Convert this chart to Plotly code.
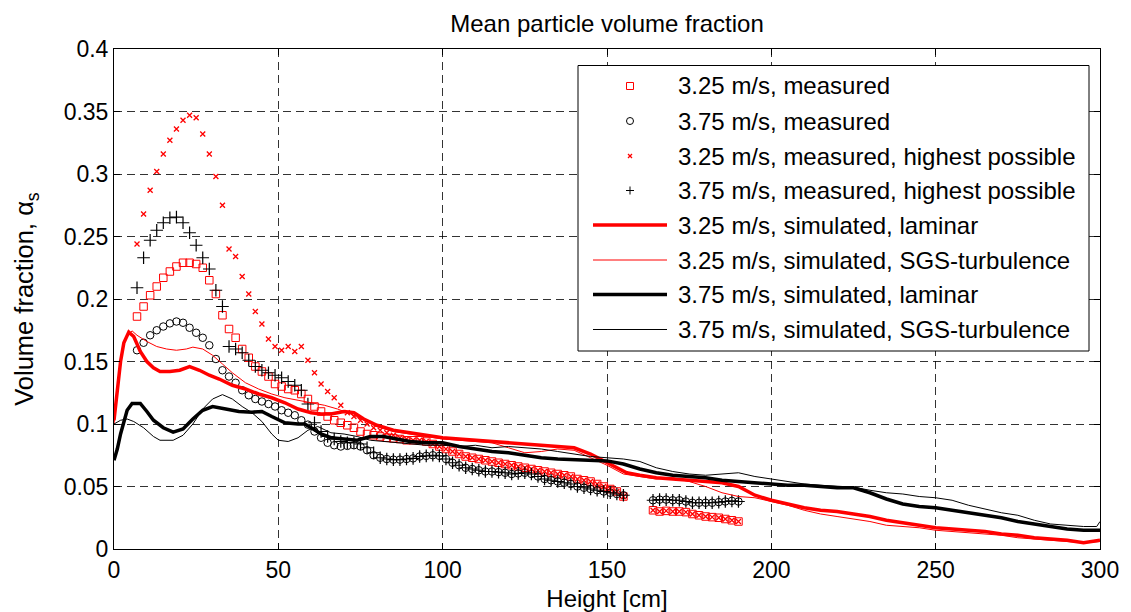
import plotly.graph_objects as go

# ---------------- data ----------------
# measurement heights [cm]
height_meas = [7, 9, 11, 13, 15, 17, 19, 21, 23, 25,
               27, 29, 31, 33, 35, 37, 39, 41, 43, 45,
               47, 49, 51, 53, 55, 57, 59, 61, 63, 65,
               67, 69, 71, 73, 75, 77, 79, 81, 83, 85,
               87, 89, 91, 93, 95, 97, 99, 101, 103, 105,
               107, 109, 111, 113, 115, 117, 119, 121, 123, 125,
               127, 129, 131, 133, 135, 137, 139, 141, 143, 145,
               147, 149, 151, 153, 155,
               164, 166, 168, 170, 172, 174, 176, 178, 180, 182, 184, 186, 188, 190]

meas_325 = [0.186, 0.194, 0.203, 0.210, 0.217, 0.222, 0.226, 0.229, 0.229, 0.228,
            0.225, 0.215, 0.204, 0.187, 0.176, 0.169, 0.160, 0.153, 0.146, 0.142,
            0.138, 0.132, 0.130, 0.128, 0.127, 0.124, 0.120, 0.114, 0.110, 0.106,
            0.103, 0.101, 0.099, 0.097, 0.094, 0.092, 0.091, 0.090, 0.089, 0.0885,
            0.088, 0.087, 0.087, 0.087, 0.086, 0.084, 0.082, 0.080, 0.078, 0.076,
            0.074, 0.073, 0.072, 0.071, 0.070, 0.069, 0.068, 0.067, 0.066, 0.065,
            0.064, 0.063, 0.062, 0.061, 0.060, 0.059, 0.058, 0.056, 0.055, 0.054,
            0.052, 0.050, 0.048, 0.046, 0.042,
            0.031, 0.030, 0.0305, 0.030, 0.030, 0.0295, 0.028, 0.027, 0.026, 0.0255, 0.025, 0.024, 0.023, 0.022]

meas_375 = [0.159, 0.165, 0.171, 0.175, 0.178, 0.1805, 0.182, 0.181, 0.177, 0.173,
            0.169, 0.163, 0.152, 0.143, 0.138, 0.133, 0.127, 0.123, 0.120, 0.118,
            0.116, 0.114, 0.111, 0.109, 0.107, 0.103, 0.0995, 0.094, 0.089, 0.085,
            0.083, 0.082, 0.0825, 0.083, 0.082, 0.079, 0.075, 0.073, 0.072, 0.0715,
            0.0715, 0.072, 0.0725, 0.074, 0.0745, 0.075, 0.0745, 0.072, 0.069, 0.067,
            0.065, 0.064, 0.063, 0.062, 0.062, 0.0615, 0.061, 0.060, 0.0605, 0.061,
            0.060, 0.058, 0.056, 0.055, 0.054, 0.053, 0.052, 0.050, 0.049, 0.048,
            0.047, 0.046, 0.045, 0.044, 0.043,
            0.039, 0.0395, 0.0395, 0.039, 0.039, 0.038, 0.037, 0.037, 0.037, 0.037, 0.0375, 0.038, 0.0385, 0.038]

high_325 = [0.244, 0.268, 0.287, 0.302, 0.316, 0.327, 0.336, 0.343, 0.347, 0.345,
            0.332, 0.316, 0.298, 0.275, 0.240, 0.234, 0.218, 0.204, 0.190, 0.180,
            0.168, 0.162, 0.159, 0.162, 0.158, 0.162, 0.151, 0.141, 0.132, 0.126,
            0.121, 0.115, 0.109, 0.106, 0.103, 0.100, 0.097, 0.095, 0.093, 0.091,
            0.089, 0.088, 0.087, 0.087, 0.086, 0.084, 0.082, 0.080, 0.078, 0.076,
            0.074, 0.073, 0.072, 0.071, 0.070, 0.069, 0.068, 0.067, 0.066, 0.065,
            0.064, 0.063, 0.062, 0.061, 0.060, 0.059, 0.058, 0.056, 0.055, 0.054,
            0.052, 0.050, 0.048, 0.046, 0.042,
            0.031, 0.030, 0.0305, 0.030, 0.030, 0.0295, 0.028, 0.027, 0.026, 0.0255, 0.025, 0.024, 0.023, 0.022]

high_375 = [0.209, 0.233, 0.247, 0.255, 0.261, 0.265, 0.2655, 0.261, 0.253, 0.243,
            0.233, 0.224, 0.207, 0.194, 0.162, 0.160, 0.157, 0.151, 0.146, 0.143,
            0.141, 0.139, 0.137, 0.134, 0.131, 0.127, 0.116, 0.101, 0.094, 0.090,
            0.088, 0.086, 0.085, 0.085, 0.084, 0.081, 0.077, 0.073, 0.072, 0.0715,
            0.0715, 0.072, 0.0725, 0.074, 0.0745, 0.075, 0.0745, 0.072, 0.069, 0.067,
            0.065, 0.064, 0.063, 0.062, 0.062, 0.0615, 0.061, 0.060, 0.0605, 0.061,
            0.060, 0.058, 0.056, 0.055, 0.054, 0.053, 0.052, 0.050, 0.049, 0.048,
            0.047, 0.046, 0.045, 0.044, 0.043,
            0.039, 0.0395, 0.0395, 0.039, 0.039, 0.038, 0.037, 0.037, 0.037, 0.037, 0.0375, 0.038, 0.0385, 0.038]

# simulated 3.25 m/s, laminar
h_sim325_lam = [0, 1, 2, 3, 4.5, 6, 8, 10, 12, 14, 17, 20, 23, 26, 29, 32, 36, 40, 44, 48,
                52, 56, 60, 63, 66, 70, 73, 76, 80, 85, 90, 95, 100, 105, 110, 115, 120, 125, 130, 135,
                140, 145, 148, 152, 156, 160, 165, 170, 175, 180, 185, 190, 195, 200, 205, 210, 215, 220, 225, 230,
                235, 240, 245, 250, 255, 260, 265, 270, 275, 280, 285, 290, 295, 300]
sim325_lam = [0.103, 0.125, 0.150, 0.165, 0.1735, 0.170, 0.158, 0.150, 0.145, 0.142, 0.142, 0.143, 0.146, 0.143, 0.139, 0.136, 0.131, 0.128, 0.124, 0.121,
              0.117, 0.112, 0.109, 0.108, 0.108, 0.110, 0.109, 0.104, 0.099, 0.095, 0.093, 0.091, 0.089, 0.088, 0.087, 0.086, 0.085, 0.084, 0.083, 0.082,
              0.081, 0.076, 0.072, 0.067, 0.061, 0.059, 0.057, 0.056, 0.055, 0.054, 0.053, 0.050, 0.043, 0.039, 0.036, 0.033, 0.031, 0.030, 0.028, 0.026,
              0.023, 0.021, 0.019, 0.017, 0.016, 0.015, 0.014, 0.012, 0.011, 0.009, 0.008, 0.007, 0.005, 0.007]

# simulated 3.25 m/s, SGS-turbulence
h_sim325_sgs = [0, 1, 2, 3, 4.5, 5.5, 7, 10, 13, 16, 19, 22, 24, 27, 30, 33, 36, 40, 44, 48,
                52, 56, 60, 64, 68, 72, 76, 80, 85, 90, 95, 100, 105, 110, 115, 120, 125, 130, 135, 140,
                145, 150, 155, 160, 165, 170, 175, 180, 185, 190, 195, 200, 205, 210, 215, 220, 225, 230, 235, 240,
                245, 250, 255, 260, 265, 270, 275, 280, 285, 290, 295, 300]
sim325_sgs = [0.100, 0.125, 0.150, 0.165, 0.172, 0.1745, 0.171, 0.166, 0.162, 0.160, 0.159, 0.160, 0.1615, 0.160, 0.155, 0.148, 0.141, 0.133, 0.128, 0.124,
              0.121, 0.119, 0.117, 0.115, 0.112, 0.108, 0.103, 0.098, 0.094, 0.092, 0.090, 0.088, 0.087, 0.086, 0.085, 0.081, 0.077, 0.078, 0.080, 0.079,
              0.073, 0.067, 0.060, 0.058, 0.056, 0.057, 0.054, 0.050, 0.045, 0.042, 0.041, 0.038, 0.035, 0.031, 0.028, 0.026, 0.024, 0.022, 0.019, 0.018,
              0.017, 0.015, 0.014, 0.013, 0.012, 0.011, 0.009, 0.008, 0.007, 0.006, 0.005, 0.006]

# simulated 3.75 m/s, laminar
h_sim375_lam = [0, 1, 2, 3, 4, 5.5, 8, 10, 12, 15, 18, 21, 24, 27, 30, 34, 38, 42, 45, 48,
                52, 56, 58, 60, 63, 66, 70, 74, 78, 82, 86, 90, 95, 100, 105, 110, 115, 120, 125, 130,
                135, 140, 145, 150, 155, 160, 165, 170, 175, 180, 185, 190, 195, 200, 205, 210, 215, 220, 225, 230,
                235, 240, 245, 250, 255, 260, 265, 270, 275, 280, 285, 290, 295, 300]
sim375_lam = [0.071, 0.080, 0.092, 0.103, 0.111, 0.1165, 0.1165, 0.110, 0.103, 0.097, 0.0935, 0.096, 0.104, 0.111, 0.114, 0.112, 0.110, 0.1095, 0.110, 0.106,
              0.101, 0.100, 0.100, 0.097, 0.092, 0.089, 0.088, 0.087, 0.090, 0.090, 0.088, 0.086, 0.085, 0.085, 0.082, 0.080, 0.078, 0.077, 0.075, 0.073,
              0.072, 0.0715, 0.071, 0.0705, 0.068, 0.064, 0.061, 0.059, 0.058, 0.057, 0.055, 0.054, 0.053, 0.052, 0.051, 0.051, 0.050, 0.049, 0.049, 0.045,
              0.040, 0.036, 0.034, 0.033, 0.031, 0.029, 0.027, 0.025, 0.022, 0.020, 0.018, 0.016, 0.015, 0.015]

# simulated 3.75 m/s, SGS-turbulence
h_sim375_sgs = [0, 2, 4, 6, 9, 12, 14, 18, 21, 24, 27, 30, 33, 36, 39, 42, 45, 48, 50, 53,
                56, 59, 62, 66, 70, 74, 78, 82, 86, 90, 95, 100, 105, 110, 115, 120, 125, 130, 135, 140,
                145, 150, 155, 160, 165, 170, 175, 180, 185, 190, 195, 200, 205, 210, 215, 220, 225, 230, 235, 240,
                245, 250, 255, 260, 265, 270, 275, 280, 285, 290, 295, 299, 300]
sim375_sgs = [0.100, 0.103, 0.104, 0.102, 0.097, 0.090, 0.087, 0.087, 0.091, 0.100, 0.112, 0.120, 0.1235, 0.120, 0.114, 0.109, 0.102, 0.092, 0.087, 0.086,
              0.089, 0.095, 0.098, 0.093, 0.092, 0.090, 0.087, 0.086, 0.085, 0.084, 0.083, 0.083, 0.082, 0.083, 0.081, 0.082, 0.081, 0.080, 0.078, 0.076,
              0.074, 0.073, 0.072, 0.070, 0.065, 0.062, 0.060, 0.059, 0.060, 0.061, 0.058, 0.056, 0.054, 0.052, 0.051, 0.050, 0.0495, 0.047, 0.045, 0.044,
              0.042, 0.041, 0.039, 0.035, 0.032, 0.029, 0.027, 0.023, 0.020, 0.019, 0.018, 0.018, 0.022]

y_ticks = [0, 0.05, 0.1, 0.15, 0.2, 0.25, 0.3, 0.35, 0.4]
y_tick_labels = ["0", "0.05", "0.1", "0.15", "0.2", "0.25", "0.3", "0.35", "0.4"]
x_ticks = [0, 50, 100, 150, 200, 250, 300]

legend_labels = ["3.25 m/s, measured",
                 "3.75 m/s, measured",
                 "3.25 m/s, measured, highest possible",
                 "3.75 m/s, measured, highest possible",
                 "3.25 m/s, simulated, laminar",
                 "3.25 m/s, simulated, SGS-turbulence",
                 "3.75 m/s, simulated, laminar",
                 "3.75 m/s, simulated, SGS-turbulence"]

RED = "#ff0000"
BLACK = "#000000"
FONT = "Liberation Sans, Arial, Helvetica, sans-serif"

fig = go.Figure()

fig.add_trace(go.Scatter(x=height_meas, y=meas_325, mode="markers", name=legend_labels[0],
                         marker=dict(symbol="square-open", size=7.5, color=RED, line=dict(width=1, color=RED))))
fig.add_trace(go.Scatter(x=height_meas, y=meas_375, mode="markers", name=legend_labels[1],
                         marker=dict(symbol="circle-open", size=7.5, color=BLACK, line=dict(width=1, color=BLACK))))
fig.add_trace(go.Scatter(x=height_meas, y=high_325, mode="markers", name=legend_labels[2],
                         marker=dict(symbol="x-thin-open", size=5, color=RED, line=dict(width=1.3, color=RED))))
fig.add_trace(go.Scatter(x=height_meas, y=high_375, mode="markers", name=legend_labels[3],
                         marker=dict(symbol="cross-thin-open", size=9, color=BLACK, line=dict(width=1.2, color=BLACK))))
fig.add_trace(go.Scatter(x=h_sim325_lam, y=sim325_lam, mode="lines", name=legend_labels[4],
                         line=dict(color=RED, width=3.5)))
fig.add_trace(go.Scatter(x=h_sim325_sgs, y=sim325_sgs, mode="lines", name=legend_labels[5],
                         line=dict(color=RED, width=1)))
fig.add_trace(go.Scatter(x=h_sim375_lam, y=sim375_lam, mode="lines", name=legend_labels[6],
                         line=dict(color=BLACK, width=3.5)))
fig.add_trace(go.Scatter(x=h_sim375_sgs, y=sim375_sgs, mode="lines", name=legend_labels[7],
                         line=dict(color=BLACK, width=1)))

# ---------------- layout ----------------
W, H = 1131, 612
L, R, T, B = 114, 31, 49, 63
PW, PH = W - L - R, H - T - B


def px(xp):
    return (xp - L) / PW


def py(yp):
    return (H - B - yp) / PH


fig.update_layout(
    width=W, height=H,
    margin=dict(l=L, r=R, t=T, b=B, autoexpand=False),
    paper_bgcolor="white", plot_bgcolor="white",
    font=dict(family=FONT, size=24, color="black"),
    showlegend=False,
    title=dict(text="Mean particle volume fraction", x=0.5, xref="paper", xanchor="center",
               y=1 - 24 / H, yref="container", yanchor="middle",
               font=dict(family=FONT, size=24, color="black")),
)

axis_common = dict(showline=True, linecolor="black", linewidth=1, mirror="ticks",
                   ticks="inside", ticklen=6, tickcolor="black", tickwidth=1,
                   showgrid=True, gridcolor="rgba(0,0,0,0.8)", gridwidth=1, griddash="8px,5px",
                   zeroline=False, automargin=False,
                   tickfont=dict(family=FONT, size=23, color="black"))

fig.update_xaxes(range=[0, 300], tickvals=x_ticks, **axis_common,
                 title=dict(text="Height [cm]", standoff=14, font=dict(family=FONT, size=24)))
fig.update_yaxes(range=[0, 0.4], tickvals=y_ticks, ticktext=y_tick_labels, **axis_common,
                 title=dict(text="Volume fraction, α<sub>s</sub>", standoff=22, font=dict(family=FONT, size=25.5)))

# ---------------- custom legend (MATLAB style) ----------------
shapes = []
annotations = []
shapes.append(dict(type="rect", xref="paper", yref="paper",
                   x0=px(578), x1=px(1089), y0=py(351), y1=py(65.5),
                   line=dict(color="black", width=1), fillcolor="white", layer="above"))
row_y = [86, 121, 156, 190.5, 225, 260, 294.5, 329.5]
mx = 630
for i, lab in enumerate(legend_labels):
    yc = row_y[i]
    annotations.append(dict(text=lab, xref="paper", yref="paper", x=px(676), y=py(yc),
                            xanchor="left", yanchor="middle", showarrow=False,
                            font=dict(family=FONT, size=24, color="black")))
    if i == 0:
        shapes.append(dict(type="rect", xref="paper", yref="paper", x0=px(mx - 3.5), x1=px(mx + 3.5),
                           y0=py(yc + 3.5), y1=py(yc - 3.5), line=dict(color=RED, width=1), layer="above"))
    elif i == 1:
        shapes.append(dict(type="circle", xref="paper", yref="paper", x0=px(mx - 3.5), x1=px(mx + 3.5),
                           y0=py(yc + 3.5), y1=py(yc - 3.5), line=dict(color=BLACK, width=1), layer="above"))
    elif i == 2:
        for a, b in ((-2, 2), (2, -2)):
            shapes.append(dict(type="line", xref="paper", yref="paper", x0=px(mx - 2), x1=px(mx + 2),
                               y0=py(yc + a), y1=py(yc + b), line=dict(color=RED, width=1.2), layer="above"))
    elif i == 3:
        shapes.append(dict(type="line", xref="paper", yref="paper", x0=px(mx - 4), x1=px(mx + 4),
                           y0=py(yc), y1=py(yc), line=dict(color=BLACK, width=1), layer="above"))
        shapes.append(dict(type="line", xref="paper", yref="paper", x0=px(mx), x1=px(mx),
                           y0=py(yc + 4), y1=py(yc - 4), line=dict(color=BLACK, width=1), layer="above"))
    else:
        col = RED if i in (4, 5) else BLACK
        wid = 3.7 if i in (4, 6) else 1
        shapes.append(dict(type="line", xref="paper", yref="paper", x0=px(593), x1=px(667),
                           y0=py(yc), y1=py(yc), line=dict(color=col, width=wid), layer="above"))

fig.update_layout(shapes=shapes, annotations=annotations)

fig.write_html("out.html")
